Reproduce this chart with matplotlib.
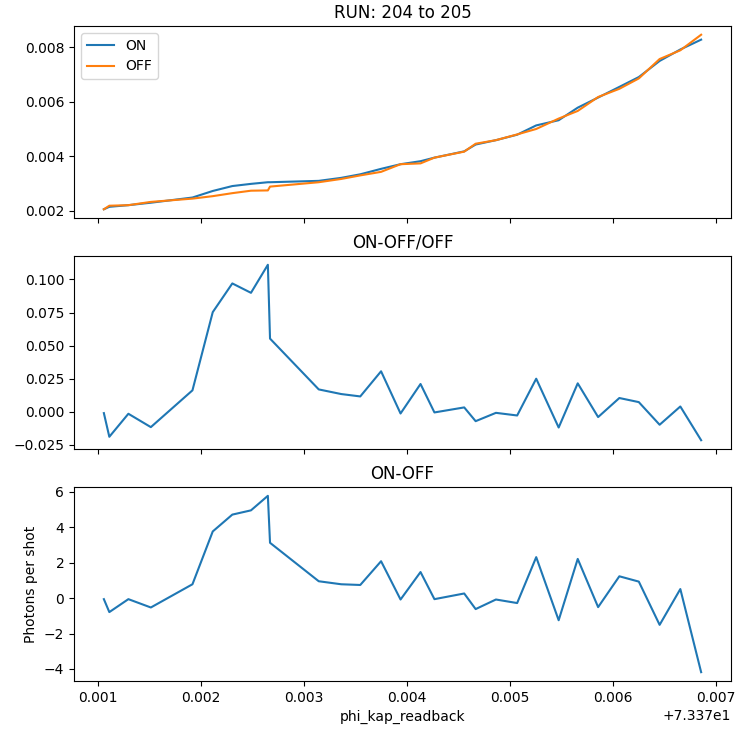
import matplotlib
matplotlib.use('Agg')
import matplotlib.pyplot as plt
import numpy as np

# phi_kap readback values
phi = np.array([73.371058, 73.371111, 73.371296, 73.371514, 73.371918, 73.372115,
                73.372305, 73.372486, 73.372650, 73.372671, 73.373144, 73.373362,
                73.373547, 73.373749, 73.373938, 73.374132, 73.374267, 73.374556,
                73.374667, 73.374864, 73.375070, 73.375255, 73.375473, 73.375658,
                73.375856, 73.376062, 73.376251, 73.376453, 73.376654, 73.376856])

on_vals = [0.00206, 0.00215, 0.00221, 0.00230, 0.00249, 0.00273, 0.00291, 0.00299,
           0.00305, 0.00305, 0.00310, 0.00321, 0.00334, 0.00354, 0.00371, 0.00382,
           0.00395, 0.00418, 0.00443, 0.00459, 0.00479, 0.00513, 0.00532, 0.00578,
           0.00615, 0.00654, 0.00690, 0.00749, 0.00791, 0.00827]

off_vals = [0.00206, 0.00219, 0.00221, 0.00233, 0.00245, 0.00254, 0.00265, 0.00274,
            0.00275, 0.00289, 0.00305, 0.00317, 0.00330, 0.00343, 0.00371, 0.00374,
            0.00395, 0.00417, 0.00446, 0.00459, 0.00480, 0.00500, 0.00538, 0.00566,
            0.00617, 0.00647, 0.00685, 0.00756, 0.00788, 0.00845]

rel_diff = [-0.0010, -0.0189, -0.0015, -0.0116, 0.0162, 0.0753, 0.0970, 0.0899,
            0.1111, 0.0553, 0.0169, 0.0134, 0.0116, 0.0306, -0.0013, 0.0210,
            -0.0005, 0.0033, -0.0071, -0.0008, -0.0028, 0.0250, -0.0119, 0.0215,
            -0.0040, 0.0104, 0.0073, -0.0098, 0.0040, -0.0215]

abs_diff = [-0.06, -0.79, -0.06, -0.53, 0.78, 3.76, 4.71, 4.95, 5.77, 3.12,
            0.95, 0.78, 0.74, 2.08, -0.08, 1.47, -0.06, 0.26, -0.62, -0.08,
            -0.28, 2.31, -1.25, 2.21, -0.51, 1.23, 0.93, -1.51, 0.51, -4.18]

run_start = 204
run_end = 205

fig = plt.figure(figsize=(7.35, 7.31), dpi=100)

left = 74 / 735
width = (731 - 74) / 735
ax1 = fig.add_axes([left, 1 - 218 / 731, width, 192 / 731])
ax2 = fig.add_axes([left, 1 - 449 / 731, width, 193 / 731], sharex=ax1)
ax3 = fig.add_axes([left, 1 - 681 / 731, width, 194 / 731], sharex=ax1)

# ---- top: ON / OFF ----
ax1.plot(phi, on_vals, label='ON')
ax1.plot(phi, off_vals, label='OFF')
ax1.legend(loc='upper left')
ax1.set_title('RUN: ' + str(run_start) + ' to ' + str(run_end))

# ---- middle: relative difference ----
ax2.plot(phi, rel_diff)
ax2.set_title('ON-OFF/OFF')

# ---- bottom: absolute difference ----
ax3.plot(phi, abs_diff)
ax3.set_title('ON-OFF')
ax3.set_ylabel('Photons per shot')
ax3.set_xlabel('phi_kap_readback')

for ax in (ax1, ax2):
    ax.tick_params(labelbottom=False)
    ax.xaxis.get_offset_text().set_visible(False)

fig.savefig('out.png', dpi=100)
